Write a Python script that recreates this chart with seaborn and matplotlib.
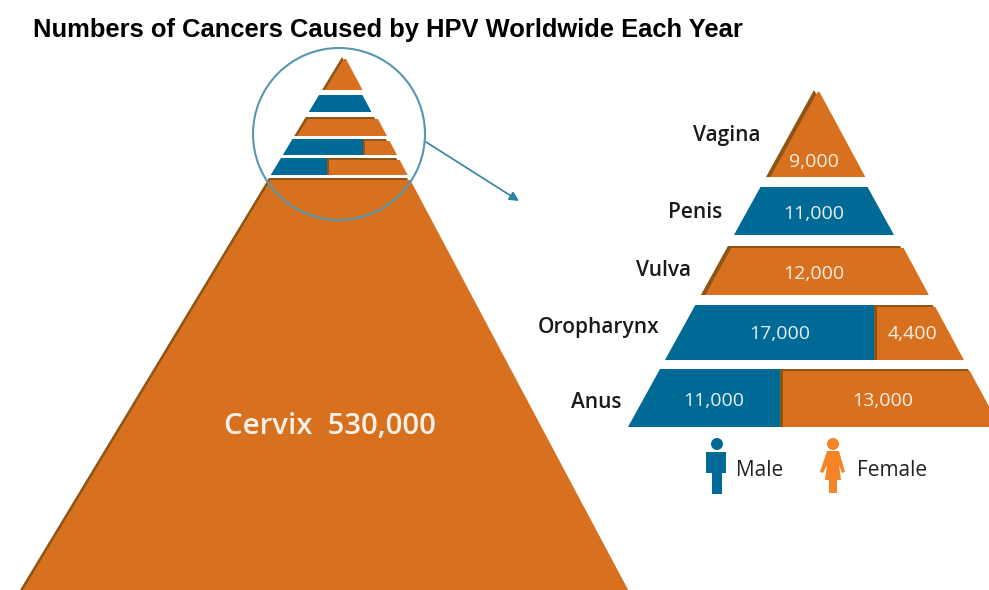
import numpy as np
import matplotlib
matplotlib.use('Agg')
import matplotlib.pyplot as plt
from matplotlib.patches import Polygon, Circle
import seaborn as sns

# values
sites = ["Vagina", "Penis", "Vulva", "Oropharynx", "Anus"]
male_cases = [0, 11000, 0, 17000, 11000]
female_cases = [9000, 0, 12000, 4400, 13000]
cervix_site = "Cervix"
cervix_cases = [530000]
legend_labels = ["Male", "Female"]
title_text = "Numbers of Cancers Caused by HPV Worldwide Each Year"

# colours
ORANGE = "#D7711F"
ORANGE_DARK = "#8E5515"
BLUE = "#006A96"
LEGEND_ORANGE = "#F58426"
RING = "#5597B0"
ARROW = "#2F82A3"

# layout of the two pyramids, in image pixels
BIG_TRI = dict(apex=(342, 57), base_y=590, left=20, right=628)
BIG_TOPS = [57, 95, 117, 139, 158, 178]
BIG_BOTTOMS = [90, 112, 136, 155, 175, 590]
BIG_SPLITS = [np.nan, np.nan, np.nan, 363, 327, np.nan]

ZOOM_TRI = dict(apex=(814, 90), base_y=427, left=628, right=1000)
ZOOM_TOPS = [90, 187, 246, 305, 369]
ZOOM_BOTTOMS = [177, 235, 295, 360, 427]
ZOOM_SPLITS = [np.nan, np.nan, np.nan, 874, 780]

LABEL_POS = [(727, 135), (695, 212), (663, 270), (599, 327), (596, 402)]
NUM_Y = [162, 214, 274, 334, 401]
NUM_X_MALE = [np.nan, 814, np.nan, 780, 714]
NUM_X_FEMALE = [814, np.nan, 814, 912, 883]


def add_bar(ax, x0, x1, top, bottom, color, clip):
    sns.barplot(x=[x1 - x0], y=[(top + bottom) / 2], orient='y', native_scale=True,
                width=bottom - top, left=x0, color=color, saturation=1,
                errorbar=None, linewidth=0, ax=ax)
    for bar in ax.containers[-1]:
        bar.set_clip_path(clip)
        bar.set_zorder(2)


def draw_pyramid(ax, tri, tops, bottoms, splits, male, female, bevel, top_bevel):
    ax_ = tri["apex"]
    outline = [ax_, (tri["right"], tri["base_y"]), (tri["left"], tri["base_y"])]
    clip = Polygon(outline, transform=ax.transData)
    # the orange face sits a little right of the dark edge
    face_outline = [(ax_[0] + bevel, ax_[1]), (tri["right"], tri["base_y"]),
                    (tri["left"] + bevel, tri["base_y"])]
    face_clip = Polygon(face_outline, transform=ax.transData)

    for i in range(len(tops)):
        if male[i] > 0 and female[i] > 0:
            split = splits[i]
        elif male[i] > 0:
            split = tri["right"]
        else:
            split = tri["left"]
        if male[i] > 0:
            add_bar(ax, tri["left"], split, tops[i], bottoms[i], BLUE, clip)
        if female[i] > 0:
            add_bar(ax, split, tri["right"], tops[i], bottoms[i], ORANGE_DARK, clip)
            add_bar(ax, split + bevel * 0.6, tri["right"], tops[i] + top_bevel, bottoms[i],
                    ORANGE, face_clip)


sns.set_theme(style="white")
plt.rcParams['font.family'] = ['Open Sans', 'DejaVu Sans']

fig = plt.figure(figsize=(9.89, 5.90), dpi=100)
ax = fig.add_axes([0, 0, 1, 1])

draw_pyramid(ax, BIG_TRI, BIG_TOPS, BIG_BOTTOMS, BIG_SPLITS,
             male_cases + [0], female_cases + cervix_cases, 3, 1.5)
draw_pyramid(ax, ZOOM_TRI, ZOOM_TOPS, ZOOM_BOTTOMS, ZOOM_SPLITS,
             male_cases, female_cases, 4.5, 2)

ax.set_xlim(0, 989)
ax.set_ylim(590, 0)
ax.axis('off')

# title
ax.text(33, 30, title_text, fontsize=18.4, fontweight='bold', family=['Liberation Sans'],
        color='black', ha='left', va='center')

# site names and counts
for i, site in enumerate(sites):
    ax.text(LABEL_POS[i][0], LABEL_POS[i][1], site, fontsize=15, fontweight='semibold',
            color='#1a1a1a', ha='center', va='center', zorder=5)
    if male_cases[i] > 0:
        ax.text(NUM_X_MALE[i], NUM_Y[i], f"{male_cases[i]:,}", fontsize=14,
                color='#E8EEF2', ha='center', va='center', zorder=5)
    if female_cases[i] > 0:
        ax.text(NUM_X_FEMALE[i], NUM_Y[i], f"{female_cases[i]:,}", fontsize=14,
                color='#FBEFE4', ha='center', va='center', zorder=5)

ax.text(330, 427, f"{cervix_site}  {cervix_cases[0]:,}", fontsize=21.2, fontweight='semibold',
        color='#FBF1E8', ha='center', va='center', zorder=5)

# magnifier ring and arrow
ax.add_patch(Circle((339, 134), 86, fill=False, edgecolor=RING, linewidth=1.5, zorder=6))
ax.annotate("", xy=(519, 201), xytext=(426, 142), zorder=6,
            arrowprops=dict(arrowstyle='-|>', color=ARROW, lw=1.2, mutation_scale=14,
                            shrinkA=0, shrinkB=0))

# legend figures
ax.add_patch(Circle((717, 444), 6, color=BLUE, lw=0, zorder=5))
ax.add_patch(Polygon([(706, 452), (726, 452), (726, 473), (722, 473), (722, 494),
                      (712, 494), (712, 473), (706, 473)], color=BLUE, lw=0, zorder=5))
ax.add_patch(Circle((833, 444), 6, color=LEGEND_ORANGE, lw=0, zorder=5))
ax.add_patch(Polygon([(827, 451), (839, 451), (845, 472), (842, 473), (839, 465), (841, 480),
                      (837, 480), (837, 493), (829, 493), (829, 480), (825, 480), (827, 465),
                      (823, 473), (820, 472)], color=LEGEND_ORANGE, lw=0, zorder=5))
ax.text(760, 470, legend_labels[0], fontsize=15, color='#222222', ha='center', va='center')
ax.text(892, 470, legend_labels[1], fontsize=15, color='#222222', ha='center', va='center')

plt.savefig('out.png', dpi=100)
